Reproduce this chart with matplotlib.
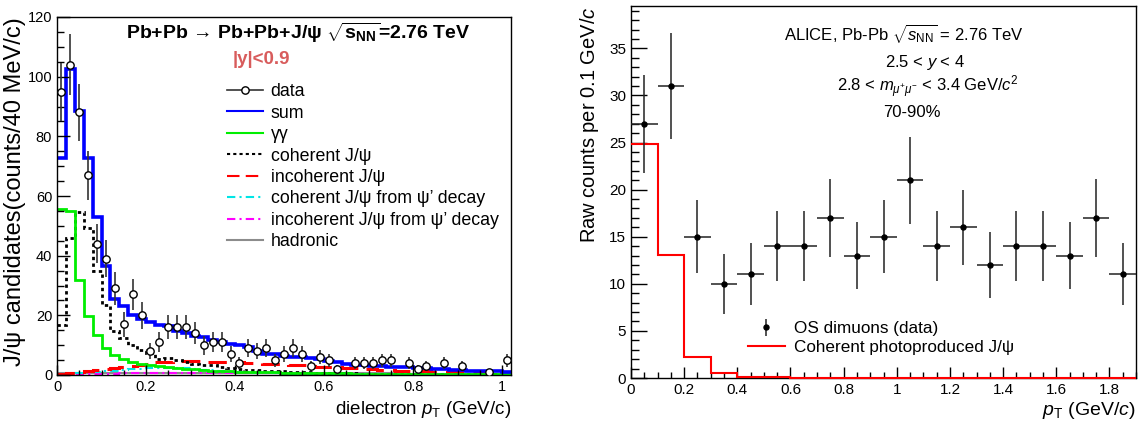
import numpy as np
import matplotlib
matplotlib.use('Agg')
import matplotlib.pyplot as plt
from matplotlib.lines import Line2D

plt.rcParams['font.family'] = ['Liberation Sans', 'DejaVu Sans']
plt.rcParams['mathtext.fontset'] = 'custom'
plt.rcParams['mathtext.rm'] = 'Liberation Sans'
plt.rcParams['mathtext.it'] = 'Liberation Sans:italic'
plt.rcParams['mathtext.bf'] = 'Liberation Sans:bold'

# ---- left panel: dielectron pT (20 MeV bins, 0 - 1.02) ----
bin_w = 0.02
n_bins = 51

sum_vals = [72.8, 102.5, 88.5, 72.6, 52.9, 36.4, 25.5, 23.2, 20.2, 18.8,
            17.6, 16.8, 16.5, 14.6, 14.0, 13.2, 12.7, 11.8, 10.9, 10.3,
            9.9, 9.5, 8.1, 7.0, 7.0, 6.4, 6.2, 6.0, 5.8, 5.2,
            4.8, 4.2, 3.8, 3.5, 3.3, 3.1, 3.0, 2.8, 2.7, 2.6,
            2.4, 2.2, 2.0, 1.9, 1.7, 1.6, 1.5, 1.4, 1.3, 1.2, 1.1]
gg_vals = [55.5, 55.0, 31.8, 19.8, 13.3, 9.2, 6.7, 5.4, 4.2, 3.7,
           3.2, 2.9, 2.6, 2.3, 2.1, 1.9, 1.7, 1.5, 1.4, 1.3,
           1.1, 1.0, 0.95, 0.9, 0.85, 0.8, 0.75, 0.7, 0.65, 0.6,
           0.58, 0.55, 0.52, 0.5, 0.48, 0.46, 0.44, 0.42, 0.4, 0.38,
           0.36, 0.35, 0.34, 0.33, 0.32, 0.31, 0.3, 0.3, 0.29, 0.28, 0.28]
coh_vals = [16.8, 46.0, 54.6, 49.3, 35.0, 23.3, 14.9, 12.3, 9.9, 8.4,
            7.3, 5.4, 5.6, 5.0, 4.5, 3.7, 3.4, 3.2, 2.6, 2.2,
            2.0, 1.8, 1.6, 1.5, 1.4, 1.2, 1.1, 1.0, 0.9, 0.8,
            0.7, 0.65, 0.6, 0.55, 0.5, 0.45, 0.42, 0.4, 0.38, 0.35,
            0.32, 0.3, 0.28, 0.26, 0.25, 0.24, 0.22, 0.2, 0.2, 0.18, 0.18]
incoh_vals = [0.5, 0.8, 1.1, 1.4, 1.7, 2.0, 2.3, 2.7, 3.0, 3.4,
              3.8, 4.2, 4.5, 4.7, 4.7, 4.7, 4.6, 4.5, 4.4, 4.3,
              4.2, 4.1, 4.0, 3.8, 3.7, 3.6, 3.4, 3.2, 3.0, 2.8,
              2.7, 2.6, 2.4, 2.2, 2.0, 1.9, 1.8, 1.6, 1.5, 1.4,
              1.3, 1.2, 1.1, 1.0, 0.95, 0.9, 0.85, 0.8, 0.75, 0.7, 0.65]
coh_psi_vals = [0.3, 0.5, 0.7, 0.9, 1.1, 1.3, 1.5, 1.7, 1.9, 2.1,
                2.3, 2.4, 2.4, 2.3, 2.2, 2.0, 1.8, 1.6, 1.4, 1.2,
                1.0, 0.9, 0.8, 0.7, 0.6, 0.5, 0.45, 0.4, 0.38, 0.35,
                0.32, 0.3, 0.28, 0.26, 0.24, 0.22, 0.2, 0.19, 0.18, 0.17,
                0.16, 0.15, 0.14, 0.13, 0.12, 0.12, 0.11, 0.1, 0.1, 0.1, 0.1]
incoh_psi_vals = [0.2, 0.25, 0.3, 0.35, 0.4, 0.45, 0.5, 0.55, 0.6, 0.62,
                  0.65, 0.68, 0.7, 0.7, 0.7, 0.7, 0.68, 0.66, 0.64, 0.62,
                  0.6, 0.58, 0.56, 0.54, 0.52, 0.5, 0.48, 0.46, 0.44, 0.42,
                  0.4, 0.38, 0.36, 0.34, 0.32, 0.3, 0.29, 0.28, 0.27, 0.26,
                  0.25, 0.24, 0.23, 0.22, 0.21, 0.2, 0.2, 0.19, 0.18, 0.18, 0.17]
had_vals = [0.7, 0.7, 0.7, 0.7, 0.7, 0.7, 0.7, 0.7, 0.7, 0.7,
            0.7, 0.7, 0.68, 0.68, 0.66, 0.66, 0.65, 0.64, 0.63, 0.62,
            0.61, 0.6, 0.6, 0.59, 0.58, 0.58, 0.57, 0.56, 0.56, 0.55,
            0.55, 0.54, 0.54, 0.53, 0.53, 0.52, 0.52, 0.51, 0.51, 0.5,
            0.5, 0.5, 0.5, 0.5, 0.5, 0.5, 0.5, 0.5, 0.5, 0.5, 0.5]

data_pt = [0.01, 0.03, 0.05, 0.07, 0.09, 0.11, 0.13, 0.15, 0.17, 0.19,
           0.21, 0.23, 0.25, 0.27, 0.29, 0.31, 0.33, 0.35, 0.37, 0.39,
           0.41, 0.43, 0.45, 0.47, 0.49, 0.51, 0.53, 0.55, 0.57, 0.59,
           0.61, 0.63, 0.67, 0.69, 0.71, 0.73, 0.75, 0.79, 0.81, 0.83,
           0.87, 0.91, 0.97, 1.01]
data_cnt = [95, 104, 88, 67, 44, 39, 29, 17, 27, 20,
            8, 11, 16, 16, 16, 14, 10, 11, 11, 7,
            4, 9, 8, 9, 5, 7, 9, 7, 3, 6,
            5, 2, 4, 4, 4, 5, 5, 4, 2, 3,
            4, 3, 1, 5]
data_err = [9.7, 10.2, 9.4, 8.2, 6.6, 6.2, 5.4, 4.1, 5.2, 4.5,
            2.8, 3.3, 4.0, 4.0, 4.0, 3.7, 3.2, 3.3, 3.3, 2.6,
            2.0, 3.0, 2.8, 3.0, 2.2, 2.6, 3.0, 2.6, 1.7, 2.4,
            2.2, 1.4, 2.0, 2.0, 2.0, 2.2, 2.2, 2.0, 1.4, 1.7,
            2.0, 1.7, 1.0, 2.2]

# ---- right panel: ALICE 70-90% ----
alice_pt = [0.05, 0.15, 0.25, 0.35, 0.45, 0.55, 0.65, 0.75, 0.85, 0.95,
            1.05, 1.15, 1.25, 1.35, 1.45, 1.55, 1.65, 1.75, 1.85]
alice_cnt = [27, 31, 15, 10, 11, 14, 14, 17, 13, 15,
             21, 14, 16, 12, 14, 14, 13, 17, 11]
alice_err = [5.2, 5.6, 3.9, 3.2, 3.3, 3.7, 3.7, 4.1, 3.6, 3.9,
             4.6, 3.7, 4.0, 3.5, 3.7, 3.7, 3.6, 4.1, 3.3]
alice_bw = 0.1
coh_mc = [24.8, 13.1, 2.2, 0.5, 0.15, 0.06, 0.03, 0.02, 0.01, 0.01,
          0.0, 0.0, 0.0, 0.0, 0.0, 0.0, 0.0, 0.0, 0.0]

fig = plt.figure(figsize=(11.48, 4.21), dpi=100)
W, H = 1148, 421
axL = fig.add_axes([57 / W, (H - 375) / H, (511 - 57) / W, (375 - 17) / H])
axR = fig.add_axes([631 / W, (H - 378) / H, (1136 - 631) / W, (378 - 6) / H])

edges = np.arange(n_bins + 1) * bin_w
axL.stairs(had_vals, edges, color='#8c8c8c', lw=1.5, baseline=None)
axL.stairs(incoh_psi_vals, edges, color='#ff00ff', lw=1.5, ls=(0, (4, 2, 1, 2)), baseline=None)
axL.stairs(coh_psi_vals, edges, color='#00e5e5', lw=1.5, ls=(0, (4, 2, 1, 2)), baseline=None)
axL.stairs(incoh_vals, edges, color='#ff0000', lw=2.2, ls=(0, (6, 3)), baseline=None)
axL.stairs(coh_vals, edges, color='black', lw=2.0, ls=(0, (1.2, 1.2)), baseline=None)
axL.stairs(gg_vals, edges, color='#00ee00', lw=2.0, baseline=None)
axL.stairs(sum_vals, edges, color='#0000ff', lw=2.6, baseline=None)
axL.errorbar(data_pt, data_cnt, yerr=data_err, fmt='o', ms=5.3, mfc='white',
             mec='black', mew=1.0, ecolor='#333333', elinewidth=1.2, zorder=5)

axL.set_xlim(0, 1.02)
axL.set_ylim(0, 120)
axL.set_xticks([0, 0.2, 0.4, 0.6, 0.8, 1.0])
axL.set_xticklabels(['0', '0.2', '0.4', '0.6', '0.8', '1'])
axL.set_xticks(np.arange(0, 1.021, 0.05), minor=True)
axL.set_yticks(np.arange(0, 121, 20))
axL.set_yticks(np.arange(0, 121, 5), minor=True)
axL.tick_params(which='both', direction='in', top=False, right=False, labelsize=10.5, width=1.0)
axL.tick_params(axis='y', which='major', length=9.5)
axL.tick_params(axis='y', which='minor', length=5)
axL.tick_params(axis='x', which='major', length=7)
axL.tick_params(axis='x', which='minor', length=3.5)
axL.set_ylabel('J/ψ candidates(counts/40 MeV/c)', fontsize=17, loc='top', labelpad=1)
axL.set_xlabel(r'dielectron $p_{\rm T}$ (GeV/c)', fontsize=13.5, loc='right', labelpad=4)

axL.text(0.532, 0.955, r'Pb+Pb → Pb+Pb+J/ψ $\sqrt{\mathbf{s}_{\mathbf{NN}}}$=2.76 TeV',
         transform=axL.transAxes, ha='center', va='center', fontsize=14, fontweight='bold')
axL.text(0.45, 0.882, '|y|<0.9', transform=axL.transAxes, ha='center', va='center',
         fontsize=13.5, fontweight='bold', color='#d85c5c')

handles = [
    Line2D([], [], color='#333333', lw=1.2, marker='o', ms=5.3, mfc='white', mec='black'),
    Line2D([], [], color='#0000ff', lw=1.5),
    Line2D([], [], color='#00ee00', lw=1.5),
    Line2D([], [], color='black', lw=1.5, ls=(0, (1.5, 1.5))),
    Line2D([], [], color='#ff0000', lw=1.5, ls=(0, (6, 3))),
    Line2D([], [], color='#00e5e5', lw=1.5, ls=(0, (4, 2, 1, 2))),
    Line2D([], [], color='#ff00ff', lw=1.5, ls=(0, (4, 2, 1, 2))),
    Line2D([], [], color='#8c8c8c', lw=1.5),
]
labels = ['data', 'sum', 'γγ', 'coherent J/ψ', 'incoherent J/ψ',
          'coherent J/ψ from ψ’ decay', 'incoherent J/ψ from ψ’ decay', 'hadronic']
axL.legend(handles, labels, loc='upper left', bbox_to_anchor=(0.355, 0.84), frameon=False,
           fontsize=12.8, handlelength=2.0, handletextpad=0.45, labelspacing=0.25, borderpad=0)

# right panel
redges = np.arange(len(coh_mc) + 1) * alice_bw
axR.stairs(coh_mc, redges, color='#ff0000', lw=1.5, baseline=None, zorder=3, clip_on=False)
axR.errorbar(alice_pt, alice_cnt, yerr=alice_err, xerr=alice_bw / 2, fmt='o', ms=3.6,
             color='black', ecolor='#222222', elinewidth=1.1, capsize=0, zorder=5)
axR.set_xlim(0, 1.9)
axR.set_ylim(0, 39.5)
axR.set_xticks(np.arange(0, 1.81, 0.2))
axR.set_xticklabels(['0', '0.2', '0.4', '0.6', '0.8', '1', '1.2', '1.4', '1.6', '1.8'])
axR.set_xticks(np.arange(0, 1.901, 0.05), minor=True)
axR.set_yticks(np.arange(0, 36, 5))
axR.set_yticks(np.arange(0, 40, 1), minor=True)
axR.tick_params(which='both', direction='in', top=False, right=False, labelsize=11, width=1.0)
axR.tick_params(axis='y', which='major', length=11.5)
axR.tick_params(axis='y', which='minor', length=6)
axR.tick_params(axis='x', which='major', length=8)
axR.tick_params(axis='x', which='minor', length=4)
axR.set_ylabel(r'Raw counts per 0.1 GeV/$c$', fontsize=14.5, loc='top', labelpad=6)
axR.set_xlabel(r'$p_{\rm T}$ (GeV/$c$)', fontsize=14, loc='right', labelpad=2)

axR.text(0.541, 0.927, r'ALICE, Pb-Pb $\sqrt{s_{\rm NN}}$ = 2.76 TeV', transform=axR.transAxes,
         ha='center', va='center', fontsize=12)
axR.text(0.582, 0.847, r'2.5 < $y$ < 4', transform=axR.transAxes, ha='center', va='center', fontsize=12)
axR.text(0.588, 0.782, r'2.8 < $m_{\mu^{+}\mu^{-}}$ < 3.4 GeV/$c^{2}$', transform=axR.transAxes,
         ha='center', va='center', fontsize=12)
axR.text(0.556, 0.715, '70-90%', transform=axR.transAxes, ha='center', va='center', fontsize=12)

# legend handle for data: marker with vertical error bar only
data_h = axR.errorbar([np.nan], [np.nan], yerr=[1.0], fmt='o', ms=3.6, color='black',
                      ecolor='#222222', elinewidth=1.1, capsize=0)
coh_h = Line2D([], [], color='#ff0000', lw=1.5)
axR.legend([data_h, coh_h], ['OS dimuons (data)', 'Coherent photoproduced J/ψ'], loc='upper left',
           bbox_to_anchor=(0.24 - 0.026, 0.175), frameon=False, fontsize=12.3,
           handlelength=2.2, handletextpad=0.5, labelspacing=0.2, borderpad=0)

for ax in (axL, axR):
    for s in ax.spines.values():
        s.set_linewidth(1.0)

fig.savefig('out.png', dpi=100)
